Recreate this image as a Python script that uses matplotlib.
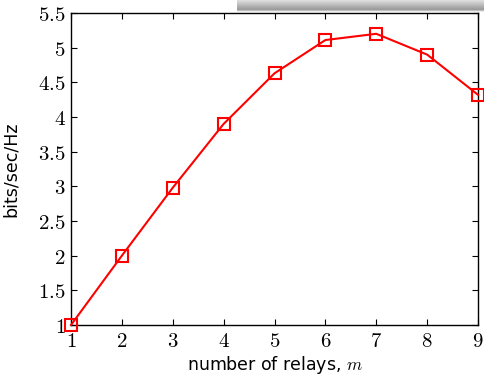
import matplotlib
matplotlib.use("Agg")
import matplotlib.pyplot as plt
import numpy as np

relays = [1, 2, 3, 4, 5, 6, 7, 8, 9]
rate = [1.0, 2.0, 2.98, 3.9, 4.63, 5.11, 5.2, 4.9, 4.32]
xticks = [1, 2, 3, 4, 5, 6, 7, 8, 9]
yticks = [1, 1.5, 2, 2.5, 3, 3.5, 4, 4.5, 5, 5.5]
ytick_labels = ["1", "1.5", "2", "2.5", "3", "3.5", "4", "4.5", "5", "5.5"]

plt.rcParams['mathtext.fontset'] = 'cm'

fig = plt.figure(figsize=(4.85, 3.82), dpi=100)
ax = fig.add_axes([71/485, 1 - 325/382, (478-71)/485, (325-13)/382])

ax.plot(relays, rate, color='#ff0000', lw=1.5, marker='s', markersize=8.5,
        markerfacecolor='none', markeredgecolor='#ff0000', markeredgewidth=1.5,
        clip_on=False, zorder=3)

ax.set_xlim(1, 9)
ax.set_ylim(1, 5.5)
ax.set_xticks(xticks)
ax.set_xticklabels([f"${t}$" for t in xticks], fontsize=15)
ax.set_yticks(yticks)
ax.set_yticklabels([f"${t}$" for t in ytick_labels], fontsize=15)
ax.tick_params(direction='in', top=True, right=True, length=4, width=0.8, pad=4)
for s in ax.spines.values():
    s.set_linewidth(1.0)

ax.set_xlabel("number of relays, $m$", fontsize=12.5)
ax.set_ylabel("bits/sec/Hz", fontsize=12.5)
ax.xaxis.set_label_coords(0.5, -(354 - 325) / 312)
ax.yaxis.set_label_coords(-(71 - 20) / 407, 0.5)

# top shadow decoration
sh = fig.add_axes([237/485, 1 - 12/382, (485-237)/485, 12/382])
grad = np.concatenate([np.linspace(0.88, 0.6, 40), np.linspace(0.6, 1.0, 10)]).reshape(-1, 1)
sh.imshow(grad, aspect='auto', cmap='gray', vmin=0, vmax=1, extent=[0, 1, 0, 1])
sh.axis('off')

fig.savefig("out.png", dpi=100)
